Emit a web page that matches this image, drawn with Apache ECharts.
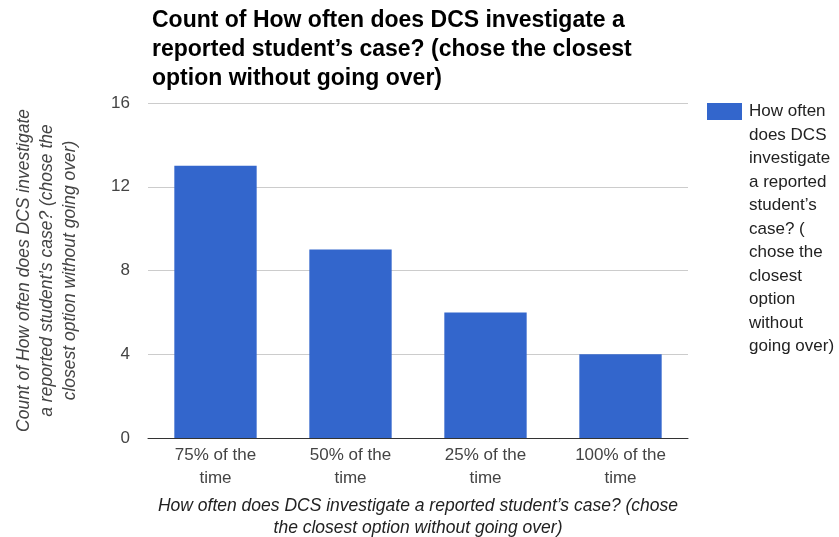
<!DOCTYPE html>
<html>
<head>
<meta charset="utf-8">
<script src="https://cdn.jsdelivr.net/npm/echarts@6/dist/echarts.min.js"></script>
<style>
  html, body { margin: 0; padding: 0; background: #fff; overflow: hidden; }
  #chart { width: 839px; height: 537px; }
</style>
</head>
<body>
<div id="chart"></div>
<script>
// Answer categories and how many responses fell into each
const categories = ['75% of the\ntime', '50% of the\ntime', '25% of the\ntime', '100% of the\ntime'];
const counts = [13, 9, 6, 4];
const yTicks = [0, 4, 8, 12, 16];

const seriesName = 'How often does DCS investigate a reported student\u2019s case? (chose the closest option without going over)';
const legendLines = ['How often', 'does DCS', 'investigate', 'a reported', 'student\u2019s', 'case? (', 'chose the', 'closest', 'option', 'without', 'going over)'];

const chart = echarts.init(document.getElementById('chart'), null, { renderer: 'canvas', width: 839, height: 537 });
const font = '"Liberation Sans", Arial, sans-serif';

chart.setOption({
  animation: false,
  backgroundColor: '#ffffff',
  title: [
    {
      text: 'Count of How often does DCS investigate a\nreported student\u2019s case? (chose the closest\noption without going over)',
      left: 152,
      top: 6,
      padding: 0,
      textStyle: { fontFamily: font, fontSize: 23, fontWeight: 'bold', color: '#000', lineHeight: 29 }
    },
    {
      text: legendLines.join('\n'),
      left: 749,
      top: 100,
      padding: 0,
      textStyle: { fontFamily: font, fontSize: 17, fontWeight: 'normal', color: '#222', lineHeight: 23.5 }
    }
  ],
  legend: {
    data: [seriesName],
    left: 707,
    top: 103,
    padding: 0,
    itemWidth: 35,
    itemHeight: 17,
    itemGap: 0,
    icon: 'rect',
    formatter: () => '',
    selectedMode: false
  },
  grid: { left: 148, width: 540, top: 103, height: 335, outerBoundsMode: 'none', containLabel: false },
  xAxis: {
    type: 'category',
    data: categories,
    name: 'How often does DCS investigate a reported student\u2019s case? (chose\nthe closest option without going over)',
    nameLocation: 'middle',
    nameGap: 57,
    nameTextStyle: { fontFamily: font, fontSize: 17.5, fontStyle: 'italic', color: '#222', lineHeight: 22, verticalAlign: 'top' },
    axisLine: { show: true, lineStyle: { color: '#333', width: 1 } },
    axisTick: { show: false },
    axisLabel: { fontFamily: font, fontSize: 17, color: '#444', lineHeight: 23, margin: 6 }
  },
  yAxis: {
    type: 'value',
    min: yTicks[0],
    max: yTicks[yTicks.length - 1],
    interval: yTicks[1] - yTicks[0],
    name: 'Count of How often does DCS investigate\na reported student\u2019s case? (chose the\nclosest option without going over)',
    nameLocation: 'middle',
    nameGap: 66,
    nameRotate: 90,
    nameTextStyle: { fontFamily: font, fontSize: 17.5, fontStyle: 'italic', color: '#444', lineHeight: 23 },
    axisLine: { show: false },
    axisTick: { show: false },
    axisLabel: { fontFamily: font, fontSize: 17, color: '#444', margin: 18 },
    splitLine: { lineStyle: { color: '#cccccc', width: 1 } }
  },
  series: [
    {
      name: seriesName,
      type: 'bar',
      data: counts,
      barWidth: '61%',
      itemStyle: { color: '#3366cc' }
    }
  ]
});
</script>
</body>
</html>
